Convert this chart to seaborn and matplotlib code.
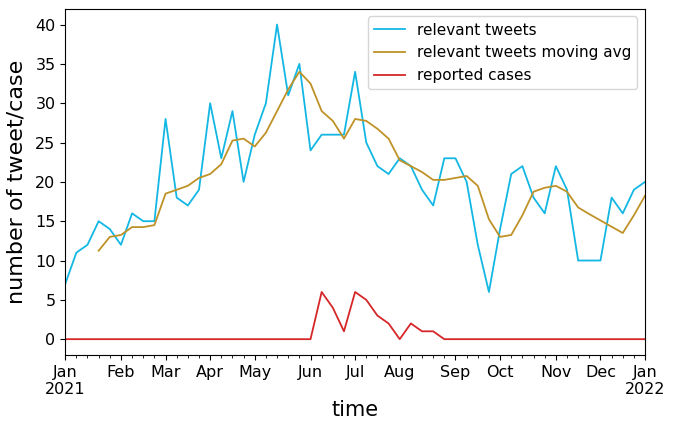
import numpy as np
import matplotlib
matplotlib.use("Agg")
import matplotlib.pyplot as plt
import pandas as pd
import seaborn as sns

# weekly counts, weeks ending on sunday
WEEK_START = "2021-01-03"

TWEETS = [7, 11, 12, 15, 14, 12, 16, 15, 15, 28, 18, 17, 19, 30, 23, 29, 20, 26,
          30, 40, 31, 35, 24, 26, 26, 26, 34, 25, 22, 21, 23, 22, 19, 17, 23, 23,
          20, 12, 6, 14, 21, 22, 18, 16, 22, 19, 10, 10, 10, 18, 16, 19, 20]

TWEETS_AVG = [np.nan, np.nan, np.nan, 11.25, 13.0, 13.25, 14.25, 14.25, 14.5, 18.5,
              19.0, 19.5, 20.5, 21.0, 22.25, 25.25, 25.5, 24.5, 26.25, 29.0, 31.75,
              34.0, 32.5, 29.0, 27.75, 25.5, 28.0, 27.75, 26.75, 25.5, 22.75, 22.0,
              21.25, 20.25, 20.25, 20.5, 20.75, 19.5, 15.25, 13.0, 13.25, 15.75,
              18.75, 19.25, 19.5, 18.75, 16.75, 15.9, 15.1, 14.3, 13.5, 15.75, 18.25]

CASES = [0, 0, 0, 0, 0, 0, 0, 0, 0, 0, 0, 0, 0, 0, 0, 0, 0, 0, 0, 0, 0, 0, 0,
         6, 4, 1, 6, 5, 3, 2, 0, 2, 1, 1, 0, 0, 0, 0, 0, 0, 0, 0, 0, 0, 0, 0,
         0, 0, 0, 0, 0, 0, 0]

weeks = pd.date_range(WEEK_START, periods=len(TWEETS), freq="W-SUN")
df = pd.DataFrame({"week": np.arange(len(weeks)),
                   "tweets": TWEETS,
                   "avg": TWEETS_AVG,
                   "cases": CASES})

fig, ax = plt.subplots(figsize=(6.79, 4.21), dpi=100)
plt.subplots_adjust(left=0.096, right=0.95, top=0.979, bottom=0.157)

sns.lineplot(data=df, x="week", y="tweets", ax=ax, color="#13b7e3",
             label="relevant tweets", linewidth=1.3)
sns.lineplot(data=df, x="week", y="avg", ax=ax, color="#bf9228",
             label="relevant tweets moving avg", linewidth=1.3)
sns.lineplot(data=df, x="week", y="cases", ax=ax, color="#d62728",
             label="reported cases", linewidth=1.3)

# month ticks on the first week of each month, like pandas period axis
major_pos, major_lab = [], []
for i, d in enumerate(weeks):
    if i == 0 or d.month != weeks[i - 1].month:
        major_pos.append(i)
        lab = d.strftime("%b")
        if d.month == 1:
            lab += "\n" + str(d.year)
        major_lab.append(lab)
ax.set_xticks(major_pos)
ax.set_xticklabels(major_lab)
ax.set_xticks(df["week"], minor=True)
ax.set_xlim(df["week"].min(), df["week"].max())

ax.set_yticks(range(0, 41, 5))
ax.tick_params(axis="both", labelsize=11.5)
ax.set_xlabel("time", fontsize=15, labelpad=2)
ax.set_ylabel("number of tweet/case", fontsize=16, labelpad=6)
ax.legend(loc="upper right", fontsize=11)

plt.savefig("out.png", dpi=100)
